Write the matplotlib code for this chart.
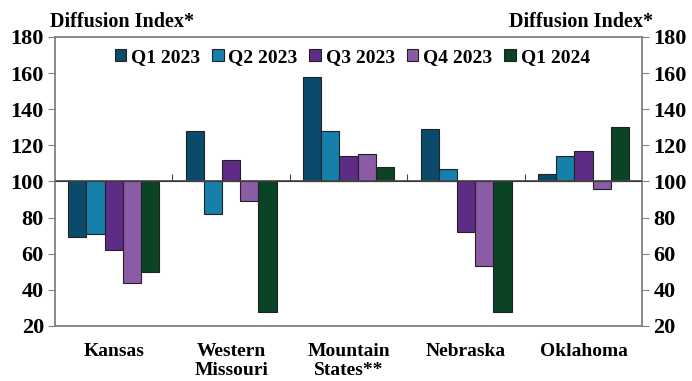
import numpy as np
import matplotlib
matplotlib.use("Agg")
import matplotlib.pyplot as plt

plt.rcParams['font.family'] = ['Liberation Serif', 'DejaVu Serif']
plt.rcParams['font.weight'] = 'bold'

regions = ["Kansas", "Western\nMissouri", "Mountain\nStates**", "Nebraska", "Oklahoma"]
series = ["Q1 2023", "Q2 2023", "Q3 2023", "Q4 2023", "Q1 2024"]
q1_2023 = [69, 128, 158, 129, 104]
q2_2023 = [71, 82, 128, 107, 114]
q3_2023 = [62, 112, 114, 72, 117]
q4_2023 = [44, 89, 115, 53, 96]
q1_2024 = [50, 28, 108, 28, 130]
colors = ["#0b4a6b", "#1580aa", "#5e2c87", "#8c5ba6", "#0a4425"]
yticks = [20, 40, 60, 80, 100, 120, 140, 160, 180]

fig = plt.figure(figsize=(6.92, 3.81), dpi=100)
ax = fig.add_axes([0.0795, 0.1444, 0.8485, 0.7585])

x = np.arange(len(regions))
width = 0.155
all_vals = [q1_2023, q2_2023, q3_2023, q4_2023, q1_2024]
for i, (vals, name, c) in enumerate(zip(all_vals, series, colors)):
    v = np.array(vals)
    ax.bar(x + (i - 2) * width, v - 100, bottom=100, width=width, color=c,
           edgecolor="#222222", linewidth=0.8, label=name, zorder=3)

ax.axhline(100, color="#444444", linewidth=1.2, zorder=4)

ax.set_xlim(-0.5, 4.5)
ax.set_ylim(20, 180)
ax.set_yticks(yticks)
ax.tick_params(axis='y', direction='out', length=5, color="#808080",
               labelsize=16, right=True, labelright=True, pad=3)
ax.set_xticks(x)
ax.set_xticklabels(regions, fontsize=14, linespacing=1.12)
ax.tick_params(axis='x', length=0, pad=12.5)
for s in ax.spines.values():
    s.set_color("#808080")
    s.set_linewidth(1.3)

# small separators between groups on the 100 line
sec = ax.secondary_xaxis(0.5)
sec.set_xticks([0.5, 1.5, 2.5, 3.5])
sec.set_xticklabels([])
sec.tick_params(direction='out', length=5, color="#444444")
sec.spines['bottom'].set_visible(False)

ax.legend(loc='center', bbox_to_anchor=(0.506, 0.93), ncol=5, frameon=False,
          fontsize=14, handlelength=0.6, handleheight=0.6, handletextpad=0.25,
          columnspacing=0.6, borderaxespad=0)

fig.text(0.072, 0.943, "Diffusion Index*", fontsize=14.5, ha='left', va='center')
fig.text(0.944, 0.943, "Diffusion Index*", fontsize=14.5, ha='right', va='center')

fig.savefig("out.png", dpi=100)
